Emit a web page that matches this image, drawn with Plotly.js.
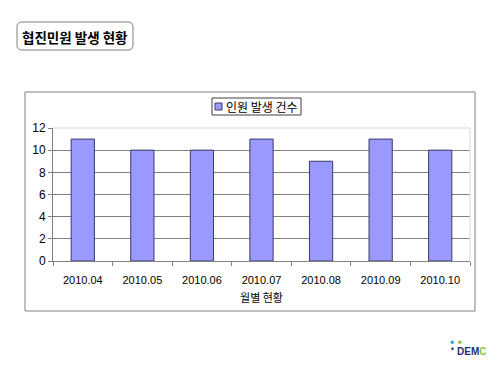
<!DOCTYPE html>
<html>
<head>
<meta charset="utf-8">
<script src="https://cdn.plot.ly/plotly-3.0.1.min.js"></script>
<style>body{margin:0;padding:0;background:#fff;}#chart{width:500px;height:375px;}</style>
</head>
<body>
<div id="chart"></div>
<script>
const months = ["2010.04","2010.05","2010.06","2010.07","2010.08","2010.09","2010.10"];
const counts = [11, 10, 10, 11, 9, 11, 10];
const seriesName = "인원 발생 건수";
const chartTitle = "협진민원 발생 현황";
const xTitle = "월별 현황";
const yTicks = [0, 2, 4, 6, 8, 10, 12];

// pixel -> paper helpers (plot area 53..470 x, 128..261 y)
const L = 53, R = 470, T = 128, B = 261;
const px = x => (x - L) / (R - L);
const py = y => (B - y) / (B - T);

const font = "Liberation Sans, Noto Sans CJK KR, sans-serif";
const kfont = "Noto Sans CJK KR, Liberation Sans, sans-serif";

function rr(x0, y0, x1, y1, r) {
  const P = (x, y) => px(x) + "," + py(y);
  return "M" + P(x0 + r, y0) + " L" + P(x1 - r, y0) +
    " Q" + P(x1, y0) + " " + P(x1, y0 + r) +
    " L" + P(x1, y1 - r) + " Q" + P(x1, y1) + " " + P(x1 - r, y1) +
    " L" + P(x0 + r, y1) + " Q" + P(x0, y1) + " " + P(x0, y1 - r) +
    " L" + P(x0, y0 + r) + " Q" + P(x0, y0) + " " + P(x0 + r, y0) + " Z";
}

const data = [{
  type: "bar",
  x: months,
  y: counts,
  name: seriesName,
  marker: {color: "#9999ff", line: {color: "#3a3a6a", width: 1}},
  hoverinfo: "x+y"
}];

const layout = {
  width: 500, height: 375,
  margin: {l: L, r: 500 - R, t: T, b: 375 - B},
  paper_bgcolor: "#ffffff",
  plot_bgcolor: "#ffffff",
  showlegend: false,
  bargap: 0.61,
  xaxis: {
    type: "category",
    showline: true, linecolor: "#808080", linewidth: 1,
    ticks: "outside", ticklen: 4, tickcolor: "#808080",
    tickson: "boundaries",
    ticklabelstandoff: 9,
    showgrid: false,
    tickfont: {family: font, size: 11, color: "#000"},
    title: {text: xTitle, font: {family: kfont, size: 11, color: "#000"}, standoff: 9},
    fixedrange: true
  },
  yaxis: {
    range: [0, 12],
    tickvals: yTicks,
    showline: true, linecolor: "#808080", linewidth: 1,
    ticks: "outside", ticklen: 4, tickcolor: "#808080",
    showgrid: true, gridcolor: "#808080", gridwidth: 1,
    zeroline: false,
    tickfont: {family: font, size: 12, color: "#000"},
    fixedrange: true
  },
  shapes: [
    {type: "rect", xref: "paper", yref: "paper", x0: px(25), x1: px(475), y0: py(311), y1: py(92),
     line: {color: "#808080", width: 1}, fillcolor: "rgba(0,0,0,0)", layer: "below"},
    {type: "line", xref: "paper", yref: "paper", x0: 0, x1: 1, y0: 1, y1: 1,
     line: {color: "#d8d8d8", width: 1}, layer: "above"},
    {type: "line", xref: "paper", yref: "paper", x0: 1, x1: 1, y0: 0, y1: 1,
     line: {color: "#d8d8d8", width: 1}, layer: "above"},
    {type: "path", xref: "paper", yref: "paper", path: rr(17, 22, 133, 50, 5),
     line: {color: "#808080", width: 1}, fillcolor: "#ffffff"},
    {type: "rect", xref: "paper", yref: "paper", x0: px(212), x1: px(301), y0: py(115), y1: py(98),
     line: {color: "#404040", width: 1}, fillcolor: "#ffffff"},
    {type: "rect", xref: "paper", yref: "paper", x0: px(215), x1: px(222), y0: py(110), y1: py(103),
     line: {color: "#3a3a6a", width: 1}, fillcolor: "#9999ff"},
    {type: "circle", xref: "paper", yref: "paper", x0: px(450.5), x1: px(454), y0: py(344), y1: py(340.5),
     line: {width: 0}, fillcolor: "#29a9e0"},
    {type: "circle", xref: "paper", yref: "paper", x0: px(458), x1: px(461.5), y0: py(344), y1: py(340.5),
     line: {width: 0}, fillcolor: "#8dc63f"},
    {type: "rect", xref: "paper", yref: "paper", x0: px(451.5), x1: px(453.5), y0: py(350), y1: py(347.5),
     line: {width: 0}, fillcolor: "#1f2f7a"}
  ],
  annotations: [
    {xref: "paper", yref: "paper", x: px(75), y: py(36.5), xanchor: "center", yanchor: "middle",
     text: "<b>" + chartTitle + "</b>", showarrow: false,
     font: {family: kfont, size: 13.5, color: "#000"}},
    {xref: "paper", yref: "paper", x: px(224), y: py(106.5), xanchor: "left", yanchor: "middle",
     text: seriesName, showarrow: false,
     font: {family: kfont, size: 12, color: "#000"}},
    {xref: "paper", yref: "paper", x: px(455), y: py(351), xanchor: "left", yanchor: "middle",
     text: "<b><span style='color:#1f2f7a'>DEM</span><span style='color:#8dc63f'>C</span></b>",
     showarrow: false, font: {family: font, size: 10, color: "#1f2f7a"}}
  ]
};

Plotly.newPlot("chart", data, layout, {displayModeBar: false, staticPlot: true});
</script>
</body>
</html>
